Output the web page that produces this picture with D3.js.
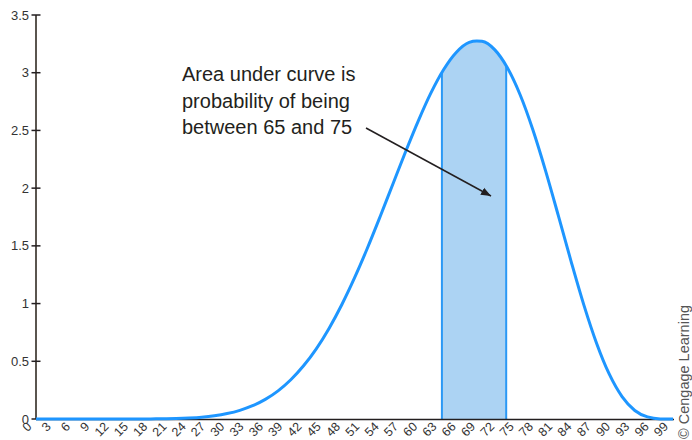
<!DOCTYPE html>
<html>
<head>
<meta charset="utf-8">
<script src="https://cdn.jsdelivr.net/npm/d3@7"></script>
<style>
  html, body { margin: 0; padding: 0; background: #fff; }
  svg { display: block; font-family: "Liberation Sans", Arial, sans-serif; }
</style>
</head>
<body>
<svg id="chart" width="692" height="440"></svg>
<script>
// Density curve: position along the 0–100 scale and height of the curve there
const curveX = [0, 10, 18, 20, 22, 24, 26, 28, 30, 32, 34, 36, 38, 40, 42, 44, 46, 48, 50,
                52, 54, 56, 58, 60, 62, 64, 66, 68, 69.2, 70, 72, 74, 76, 78, 80, 82, 84,
                86, 88, 90, 92, 94, 96, 98, 100];
const curveY = [0, 0, 0.001, 0.002, 0.0045, 0.009, 0.016, 0.028, 0.047, 0.075, 0.115, 0.17,
                0.244, 0.34, 0.461, 0.608, 0.785, 0.99, 1.222, 1.477, 1.75, 2.032, 2.313,
                2.581, 2.825, 3.028, 3.178, 3.263, 3.275, 3.272, 3.2, 3.043, 2.809, 2.506,
                2.15, 1.762, 1.366, 0.989, 0.657, 0.388, 0.194, 0.074, 0.018, 0.001, 0];

// Category labels along the bottom axis
const xTickLabels = [0, 3, 6, 9, 12, 15, 18, 21, 24, 27, 30, 33, 36, 39, 42, 45, 48, 51,
                     54, 57, 60, 63, 66, 69, 72, 75, 78, 81, 84, 87, 90, 93, 96, 99];
const yTicks = [0, 0.5, 1, 1.5, 2, 2.5, 3, 3.5];

// Shaded interval
const bandFrom = 65;
const bandTo = 75;

const noteLines = ["Area under curve is", "probability of being", "between 65 and 75"];
const credit = "\u00A9 Cengage Learning";

const svg = d3.select("#chart");

const plot = { left: 36, right: 673, top: 15, bottom: 419 };

const y = d3.scaleLinear().domain([0, 3.5]).range([plot.bottom, plot.top]);
// the density is drawn across the full plot width
const xCurve = d3.scaleLinear().domain([0, 100]).range([plot.left, plot.right]);
// category labels sit on their own positions along the axis
const xAxis = d3.scaleLinear().domain([0, 99]).range([24, 660.5]);

const pts = curveX.map((v, i) => [v, curveY[i]]);

const areaGen = d3.area()
  .x(d => xCurve(d[0]))
  .y0(y(0))
  .y1(d => y(d[1]))
  .curve(d3.curveMonotoneX);
const lineGen = d3.line()
  .x(d => xCurve(d[0]))
  .y(d => y(d[1]))
  .curve(d3.curveMonotoneX);

const defs = svg.append("defs");

// clip to the region under the curve
defs.append("clipPath").attr("id", "under")
  .append("path").attr("d", areaGen(pts));

const band = svg.append("g").attr("clip-path", "url(#under)");
band.append("rect")
  .attr("x", xAxis(bandFrom))
  .attr("y", plot.top)
  .attr("width", xAxis(bandTo) - xAxis(bandFrom))
  .attr("height", plot.bottom - plot.top)
  .attr("fill", "#acd3f3");
[bandFrom, bandTo].forEach(v => {
  band.append("line")
    .attr("x1", xAxis(v)).attr("x2", xAxis(v))
    .attr("y1", plot.top).attr("y2", plot.bottom)
    .attr("stroke", "#2a98f5").attr("stroke-width", 2);
});

// y axis
const yAxisG = svg.append("g");
yAxisG.append("line")
  .attr("x1", plot.left).attr("x2", plot.left).attr("y1", y(3.5)).attr("y2", plot.bottom)
  .attr("stroke", "#5a554f").attr("stroke-width", 2);
yAxisG.selectAll("line.tick").data(yTicks).enter().append("line")
  .attr("class", "tick")
  .attr("x1", plot.left - 4.5).attr("x2", plot.left + 4.5)
  .attr("y1", d => y(d)).attr("y2", d => y(d))
  .attr("stroke", "#231f20").attr("stroke-width", 1.5);
yAxisG.selectAll("text").data(yTicks).enter().append("text")
  .attr("x", plot.left - 7)
  .attr("y", d => y(d))
  .attr("dy", "0.35em")
  .attr("text-anchor", "end")
  .attr("font-size", 13)
  .attr("fill", "#333")
  .text(d => d);

// x axis
svg.append("line")
  .attr("x1", plot.left).attr("x2", plot.right + 1)
  .attr("y1", plot.bottom + 0.5).attr("y2", plot.bottom + 0.5)
  .attr("stroke", "#231f20").attr("stroke-width", 1.5);
svg.append("g").selectAll("text").data(xTickLabels).enter().append("text")
  .attr("transform", d => `translate(${xAxis(d) + 2},${plot.bottom + 2}) rotate(-45)`)
  .attr("text-anchor", "end")
  .attr("dy", "0.72em")
  .attr("font-size", 12.5)
  .attr("fill", "#333")
  .text(d => d);

// density curve
svg.append("path")
  .attr("d", lineGen(pts))
  .attr("fill", "none")
  .attr("stroke", "#1e96ff")
  .attr("stroke-width", 3);

// annotation text and arrow
defs.append("marker")
  .attr("id", "head")
  .attr("viewBox", "0 0 10 10")
  .attr("refX", 10).attr("refY", 5)
  .attr("markerWidth", 10).attr("markerHeight", 10)
  .attr("markerUnits", "userSpaceOnUse")
  .attr("orient", "auto")
  .append("path").attr("d", "M0,1 L10,5 L0,9 Z").attr("fill", "#231f20");

svg.append("g").selectAll("text").data(noteLines).enter().append("text")
  .attr("x", 182)
  .attr("y", (d, i) => 81 + i * 26.5)
  .attr("font-size", 20)
  .attr("fill", "#231f20")
  .text(d => d);

svg.append("line")
  .attr("x1", 366).attr("y1", 128)
  .attr("x2", 491).attr("y2", 196)
  .attr("stroke", "#231f20").attr("stroke-width", 1.5)
  .attr("marker-end", "url(#head)");

svg.append("text")
  .attr("transform", "translate(688.5,439) rotate(-90)")
  .attr("font-size", 14.5)
  .attr("fill", "#555")
  .text(credit);
</script>
</body>
</html>
